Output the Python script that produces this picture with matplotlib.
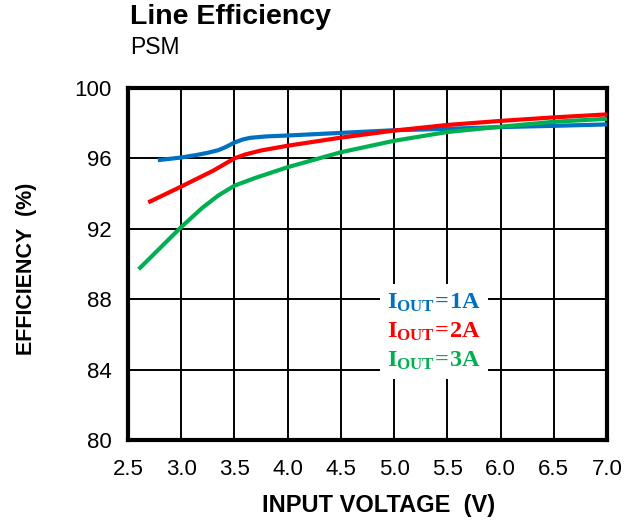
import matplotlib
matplotlib.use("Agg")
import matplotlib.pyplot as plt

plt.rcParams['font.family'] = ['Liberation Sans', 'DejaVu Sans']
plt.rcParams['mathtext.fontset'] = 'custom'
plt.rcParams['mathtext.bf'] = 'Liberation Serif:bold'
plt.rcParams['mathtext.rm'] = 'Liberation Serif:bold'

# Efficiency (%) vs input voltage (V) for three load currents
v_1a = [2.78, 3.0, 3.15, 3.25, 3.35, 3.42, 3.5, 3.58, 3.65, 3.8, 4.0, 4.5, 5.0, 5.5, 6.0, 6.5, 7.0]
eff_1a = [95.9, 96.05, 96.2, 96.32, 96.47, 96.65, 96.9, 97.08, 97.17, 97.25, 97.3, 97.45, 97.6, 97.68, 97.78, 97.85, 97.93]

v_2a = [2.69, 3.0, 3.2, 3.3, 3.4, 3.5, 3.6, 3.75, 4.0, 4.5, 5.0, 5.5, 6.0, 6.5, 7.0]
eff_2a = [93.5, 94.4, 95.0, 95.3, 95.65, 96.0, 96.22, 96.45, 96.72, 97.18, 97.58, 97.9, 98.13, 98.33, 98.5]

v_3a = [2.6, 2.8, 3.0, 3.2, 3.35, 3.5, 3.7, 4.0, 4.5, 5.0, 5.5, 6.0, 6.5, 7.0]
eff_3a = [89.7, 90.9, 92.1, 93.2, 93.9, 94.45, 94.9, 95.5, 96.35, 97.0, 97.5, 97.8, 98.08, 98.25]

series_labels = [r'$\mathbf{I_{OUT}\!=\!1A}$', r'$\mathbf{I_{OUT}\!=\!2A}$', r'$\mathbf{I_{OUT}\!=\!3A}$']
series_colors = ['#0070C0', '#FF0000', '#00B050']

x_ticks = [2.5, 3.0, 3.5, 4.0, 4.5, 5.0, 5.5, 6.0, 6.5, 7.0]
y_ticks = [80, 84, 88, 92, 96, 100]

fig = plt.figure(figsize=(6.34, 5.24), dpi=100)
ax = fig.add_axes([128 / 634, 1 - 440 / 524, (607 - 128) / 634, (440 - 88) / 524])

for (v, e), lab, col in zip([(v_1a, eff_1a), (v_2a, eff_2a), (v_3a, eff_3a)], series_labels, series_colors):
    ax.plot(v, e, color=col, lw=3.0, label=lab, solid_capstyle='butt',
            solid_joinstyle='round', zorder=3)

ax.set_xlim(2.5, 7.0)
ax.set_ylim(80, 100)
ax.set_xticks(x_ticks)
ax.set_xticklabels([f'{t:.1f}' for t in x_ticks])
ax.set_yticks(y_ticks)
ax.set_yticklabels([str(t) for t in y_ticks])
ax.grid(True, color='black', lw=1.4)
ax.tick_params(length=0, labelsize=16, pad=12)
ax.tick_params(axis='x', pad=14)
for s in ax.spines.values():
    s.set_linewidth(3.0)

ax.set_xlabel('INPUT VOLTAGE  (V)', fontsize=17, fontweight='bold', labelpad=10)
ax.xaxis.label.set_x(0.523)
ax.set_ylabel('EFFICIENCY  (%)', fontsize=15.5, fontweight='bold', labelpad=27)
ax.yaxis.label.set_y(0.486)

leg = ax.legend(loc='upper left', bbox_to_anchor=(0.50, 0.478), handlelength=0, handletextpad=0,
                labelcolor='linecolor', fontsize=17.5, frameon=True, framealpha=1,
                facecolor='white', edgecolor='none', fancybox=False, borderpad=0.3,
                labelspacing=0.28)
for h in leg.legend_handles:
    h.set_visible(False)

fig.text(130 / 634, 1 - 17 / 524, 'Line Efficiency', fontsize=20.5, fontweight='bold', va='center', ha='left')
fig.text(130 / 634, 1 - 47 / 524, 'PSM', fontsize=16.5, va='center', ha='left')

fig.savefig('out.png', dpi=100)
